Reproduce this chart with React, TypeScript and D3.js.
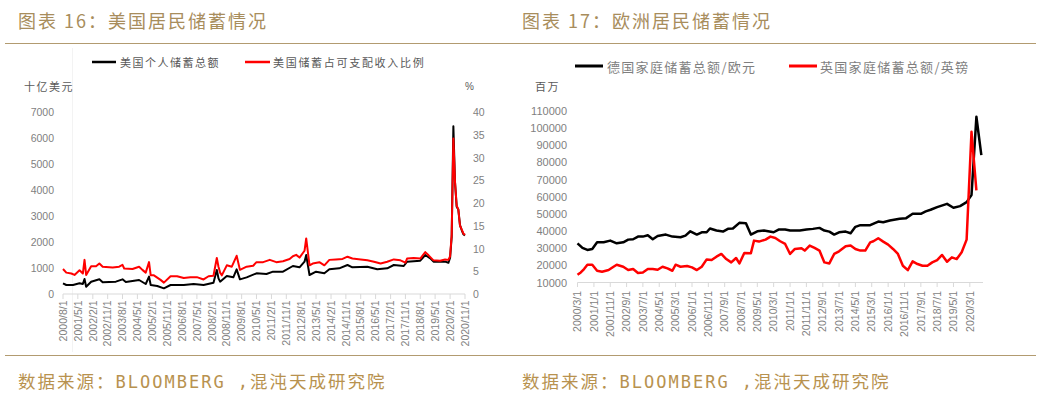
import React from 'react';
import * as d3 from 'd3';

// ---------- DATA ----------
// Chart 16: US
const usTotalDates = ['2000-08','2000-10','2001-02','2001-06','2001-08','2001-09','2001-10','2002-01','2002-06','2002-08','2003-04','2003-08','2003-10','2004-06','2004-10','2004-12','2005-01','2005-05','2005-09','2006-01','2006-09','2007-03','2007-09','2008-03','2008-05','2008-06','2008-07','2008-11','2009-03','2009-05','2009-07','2009-11','2010-05','2010-11','2011-03','2011-09','2012-03','2012-07','2012-10','2012-11','2013-01','2013-05','2013-10','2014-01','2014-07','2014-12','2015-03','2015-12','2016-06','2016-12','2017-04','2017-10','2017-12','2018-08','2018-11','2019-02','2019-04','2019-11','2020-01','2020-02','2020-03','2020-04','2020-05','2020-06','2020-07','2020-08','2020-09','2020-10','2020-11'];
const usTotalValues = [410,346,346,410,385,577,282,474,564,449,474,564,462,538,385,667,346,308,218,346,346,385,346,436,923,600,474,692,641,949,564,641,795,769,859,859,1077,1026,1244,1500,731,859,795,949,987,1115,1026,1051,949,987,1115,1077,1244,1282,1500,1372,1244,1244,1200,1400,2200,6450,4300,3360,3250,2650,2460,2300,2250];

const usRateDates = ['2000-08','2000-10','2001-01','2001-03','2001-06','2001-08','2001-09','2001-10','2002-01','2002-04','2002-06','2002-08','2003-02','2003-06','2003-08','2003-09','2004-02','2004-06','2004-08','2004-10','2004-12','2005-01','2005-03','2005-07','2005-09','2006-01','2006-05','2006-09','2007-01','2007-05','2007-09','2007-12','2008-03','2008-05','2008-06','2008-07','2008-08','2008-11','2009-02','2009-05','2009-07','2009-11','2010-03','2010-05','2010-09','2011-01','2011-05','2011-09','2012-01','2012-03','2012-05','2012-07','2012-10','2012-11','2013-01','2013-03','2013-07','2013-10','2014-01','2014-05','2014-09','2014-12','2015-03','2015-08','2015-12','2016-04','2016-08','2016-12','2017-04','2017-08','2017-11','2017-12','2018-04','2018-08','2018-11','2019-01','2019-04','2019-08','2019-11','2020-01','2020-02','2020-03','2020-04','2020-05','2020-06','2020-07','2020-08','2020-09','2020-10','2020-11'];
const usRateValues = [5.5,4.7,4.5,4.2,5.2,4.5,7.5,4.2,6.1,6.1,6.7,6.0,5.8,6.0,6.4,5.6,5.5,6.0,5.3,4.7,7.0,4.1,4.1,3.1,2.5,3.9,3.9,3.5,3.7,3.7,3.2,3.9,4.0,7.9,6.0,4.7,4.1,6.3,6.0,8.4,5.3,6.0,6.2,7.0,7.0,7.5,7.0,7.2,7.7,8.3,8.6,8.0,9.5,12.2,6.3,6.7,7.0,6.3,7.5,7.6,7.7,8.2,7.8,7.6,7.4,7.1,6.7,7.1,7.6,7.4,6.9,7.8,7.9,7.8,9.2,8.5,7.4,7.3,7.6,7.5,8.3,13.0,34.2,24.7,19.4,18.6,15.0,14.2,13.3,13.0];

const usTickLabels = ['2000/8/1','2001/5/1','2002/2/1','2002/11/1','2003/8/1','2004/5/1','2005/2/1','2005/11/1','2006/8/1','2007/5/1','2008/2/1','2008/11/1','2009/8/1','2010/5/1','2011/2/1','2011/11/1','2012/8/1','2013/5/1','2014/2/1','2014/11/1','2015/8/1','2016/5/1','2017/2/1','2017/11/1','2018/8/1','2019/5/1','2020/2/1','2020/11/1'];
const usLeftTicks = [0,1000,2000,3000,4000,5000,6000,7000];
const usRightTicks = [0,5,10,15,20,25,30,35,40];

// Chart 17: Europe
const deDates = ['2000-03','2000-06','2000-09','2000-12','2001-03','2001-07','2001-11','2002-03','2002-07','2002-10','2003-01','2003-04','2003-07','2003-10','2004-01','2004-04','2004-09','2005-01','2005-06','2005-09','2005-12','2006-04','2006-07','2006-10','2006-12','2007-04','2007-08','2007-11','2008-02','2008-06','2008-10','2009-01','2009-05','2009-09','2010-03','2010-06','2010-10','2011-01','2011-07','2011-11','2012-03','2012-07','2012-10','2013-01','2013-04','2013-07','2013-11','2014-02','2014-05','2014-08','2015-02','2015-07','2015-10','2016-02','2016-08','2016-12','2017-04','2017-09','2017-12','2018-03','2018-07','2019-01','2019-05','2019-09','2020-01','2020-04','2020-07','2020-10'];
const deValues = [32850,30150,29000,29560,33430,33430,34430,32850,33430,35000,35200,36770,36770,37530,35200,37150,37940,36770,36400,37350,39870,37940,39290,39290,41460,40290,39680,41270,41460,44800,44600,37940,39870,40290,39290,40870,40870,40290,40290,40870,41270,41850,40290,39680,37940,39290,39680,38720,42450,43430,43430,45560,45170,46150,47140,47520,50060,50060,51440,52400,53940,55870,53560,54530,56870,61000,106660,84230];

const ukDates = ['2000-03','2000-05','2000-07','2000-09','2000-12','2001-03','2001-06','2001-10','2002-01','2002-03','2002-07','2002-10','2003-01','2003-04','2003-07','2003-10','2004-01','2004-04','2004-07','2004-10','2005-01','2005-03','2005-06','2005-10','2006-01','2006-04','2006-07','2006-10','2007-01','2007-04','2007-07','2007-10','2008-01','2008-04','2008-06','2008-09','2009-01','2009-03','2009-06','2009-10','2010-01','2010-04','2010-07','2010-10','2011-01','2011-04','2011-08','2011-10','2012-01','2012-04','2012-07','2012-10','2013-01','2013-04','2013-07','2013-11','2014-02','2014-05','2014-08','2014-11','2015-02','2015-04','2015-07','2015-10','2016-01','2016-04','2016-07','2016-10','2017-01','2017-04','2017-07','2017-10','2018-01','2018-04','2018-07','2018-10','2019-01','2019-04','2019-07','2019-10','2020-01','2020-04','2020-07'];
const ukValues = [14500,15860,17850,20370,20370,16850,16270,17240,19200,20370,19200,17240,17850,15510,15860,17850,17850,17440,19200,18220,16850,20370,19200,19580,18830,17240,19200,23470,23080,25060,26640,23670,21720,24280,21130,27220,27020,34430,33850,35020,36770,35990,34040,32490,26640,29560,29950,28600,31520,30150,28600,21720,21130,26640,28200,31130,31520,29560,28600,28600,33430,34040,35780,33850,32080,29560,26640,19780,17240,22300,20760,19780,19780,21720,23080,26050,22110,24670,23670,27610,35020,97870,63720];

const euTickLabels = ['2000/3/1','2001/1/1','2001/11/1','2002/9/1','2003/7/1','2004/5/1','2005/3/1','2006/1/1','2006/11/1','2007/9/1','2008/7/1','2009/5/1','2010/3/1','2011/1/1','2011/11/1','2012/9/1','2013/7/1','2014/5/1','2015/3/1','2016/1/1','2016/11/1','2017/9/1','2018/7/1','2019/5/1','2020/3/1'];
const euTicks = [10000,20000,30000,40000,50000,60000,70000,80000,90000,100000,110000];

// ---------- helpers ----------
const parseM = d3.timeParse('%Y-%m');
const parseT = d3.timeParse('%Y/%m/%d');

const GOLD = '#a88d5c';
const GOLD_LINE = '#b29b70';
const FOOT = '#b8924f';
const TICK_TXT = '#7f7f7f';
const AXIS = '#d9d9d9';
const CJK = '"Noto Sans CJK SC", sans-serif';
const NUM = '"Liberation Sans", Arial, sans-serif';

function pts(dates: string[], vals: number[]) {
  return dates.map((d, i) => ({ d: parseM(d) as Date, v: vals[i] }));
}

export default function App() {
  // ----- US chart scales -----
  const usX = d3.scaleTime().domain([parseM('2000-08') as Date, parseM('2020-11') as Date]).range([63, 465]);
  const usYL = d3.scaleLinear().domain([0, 7000]).range([294, 112]);
  const usYR = d3.scaleLinear().domain([0, 40]).range([294, 112]);
  const lineUSL = d3.line<{ d: Date; v: number }>().x(p => usX(p.d)).y(p => usYL(p.v));
  const lineUSR = d3.line<{ d: Date; v: number }>().x(p => usX(p.d)).y(p => usYR(p.v));

  // ----- EU chart scales -----
  const euX = d3.scaleTime().domain([parseM('2000-03') as Date, parseM('2020-11') as Date]).range([577.5, 983]);
  const euY = d3.scaleLinear().domain([10000, 110000]).range([282.5, 111]);
  const lineEU = d3.line<{ d: Date; v: number }>().x(p => euX(p.d)).y(p => euY(p.v));

  const usTotal = pts(usTotalDates, usTotalValues);
  const usRate = pts(usRateDates, usRateValues);
  const de = pts(deDates, deValues);
  const uk = pts(ukDates, ukValues);

  return (
    <svg width={1041} height={397} style={{ position: 'absolute', left: 0, top: 0, background: '#fff' }}>
      <rect x={0} y={0} width={1041} height={397} fill="#fff" />
      {/* Titles */}
      <text x={18} y={28} fontFamily={CJK} fontSize={18} fill={GOLD} letterSpacing={2}>图表 16：美国居民储蓄情况</text>
      <text x={522} y={28} fontFamily={CJK} fontSize={18} fill={GOLD} letterSpacing={2}>图表 17：欧洲居民储蓄情况</text>
      <line x1={5} x2={1036} y1={43.5} y2={43.5} stroke={GOLD_LINE} strokeWidth={1.2} />
      <line x1={5} x2={1036} y1={355.5} y2={355.5} stroke={GOLD_LINE} strokeWidth={1.2} />

      {/* Footers */}
      {[18, 522].map(fx => (
        <text key={fx} x={fx} y={388} fontFamily={CJK} fontSize={17.5} fill={FOOT} letterSpacing={2}>
          数据来源：<tspan fontFamily='"DejaVu Sans Mono", monospace' fontSize={17}>BLOOMBERG ,</tspan>混沌天成研究院
        </text>
      ))}

      {/* ===== US chart ===== */}
      <line x1={72.5} x2={72.5} y1={48} y2={352} stroke="#f3f3f3" strokeWidth={1} />
      {/* legend */}
      <line x1={92} x2={116} y1={62} y2={62} stroke="#000" strokeWidth={2.5} />
      <text x={120} y={62} dominantBaseline="central" fontFamily={CJK} fontSize={11} fill="#595959" letterSpacing={1.5}>美国个人储蓄总额</text>
      <line x1={245} x2={270} y1={62} y2={62} stroke="#ff0000" strokeWidth={2.5} />
      <text x={273} y={62} dominantBaseline="central" fontFamily={CJK} fontSize={11} fill="#595959" letterSpacing={1.7}>美国储蓄占可支配收入比例</text>
      <text x={24} y={86} dominantBaseline="central" fontFamily={CJK} fontSize={11} fill="#595959" letterSpacing={1.5}>十亿美元</text>
      <text x={465} y={86} dominantBaseline="central" fontFamily={NUM} fontSize={10} fill="#595959">%</text>

      {usLeftTicks.map(t => (
        <text key={'l' + t} x={54} y={usYL(t)} textAnchor="end" dominantBaseline="central" fontFamily={NUM} fontSize={10.5} fill={TICK_TXT}>{t}</text>
      ))}
      {usRightTicks.map(t => (
        <text key={'r' + t} x={473} y={usYR(t)} dominantBaseline="central" fontFamily={NUM} fontSize={10.5} fill={TICK_TXT}>{t}</text>
      ))}
      <line x1={63} x2={465} y1={294} y2={294} stroke={AXIS} strokeWidth={1} />
      {usTickLabels.map(lbl => {
        const x = usX(parseT(lbl) as Date);
        return (
          <g key={lbl}>
            <line x1={x} x2={x} y1={294} y2={299} stroke={AXIS} strokeWidth={1} />
            <text transform={`translate(${x},300.5) rotate(-90)`} textAnchor="end" dy="0.35em" fontFamily={NUM} fontSize={10.5} fill={TICK_TXT}>{lbl}</text>
          </g>
        );
      })}
      <path d={lineUSL(usTotal) || ''} fill="none" stroke="#000" strokeWidth={2} strokeLinejoin="round" />
      <path d={lineUSR(usRate) || ''} fill="none" stroke="#ff0000" strokeWidth={2} strokeLinejoin="round" />

      {/* ===== EU chart ===== */}
      <line x1={575} x2={603} y1={66} y2={66} stroke="#000" strokeWidth={3} />
      <text x={607} y={66} dominantBaseline="central" fontFamily={CJK} fontSize={13} fill="#7f7f7f" letterSpacing={1.3}>德国家庭储蓄总额/欧元</text>
      <line x1={789} x2={817} y1={66} y2={66} stroke="#ff0000" strokeWidth={3} />
      <text x={820} y={66} dominantBaseline="central" fontFamily={CJK} fontSize={13} fill="#7f7f7f" letterSpacing={1.3}>英国家庭储蓄总额/英镑</text>
      <text x={535} y={86} dominantBaseline="central" fontFamily={CJK} fontSize={11} fill="#595959" letterSpacing={1.5}>百万</text>

      {euTicks.map(t => (
        <text key={'e' + t} x={567} y={euY(t)} textAnchor="end" dominantBaseline="central" fontFamily={NUM} fontSize={11} fill={TICK_TXT}>{t}</text>
      ))}
      <line x1={577.5} x2={983} y1={282.5} y2={282.5} stroke={AXIS} strokeWidth={1} />
      {euTickLabels.map(lbl => {
        const x = euX(parseT(lbl) as Date);
        return (
          <g key={lbl}>
            <line x1={x} x2={x} y1={282.5} y2={287} stroke={AXIS} strokeWidth={1} />
            <text transform={`translate(${x},291) rotate(-90)`} textAnchor="end" dy="0.35em" fontFamily={NUM} fontSize={10.5} fill={TICK_TXT}>{lbl}</text>
          </g>
        );
      })}
      <path d={lineEU(de) || ''} fill="none" stroke="#000" strokeWidth={2.5} strokeLinejoin="round" />
      <path d={lineEU(uk) || ''} fill="none" stroke="#ff0000" strokeWidth={2.5} strokeLinejoin="round" />
    </svg>
  );
}
